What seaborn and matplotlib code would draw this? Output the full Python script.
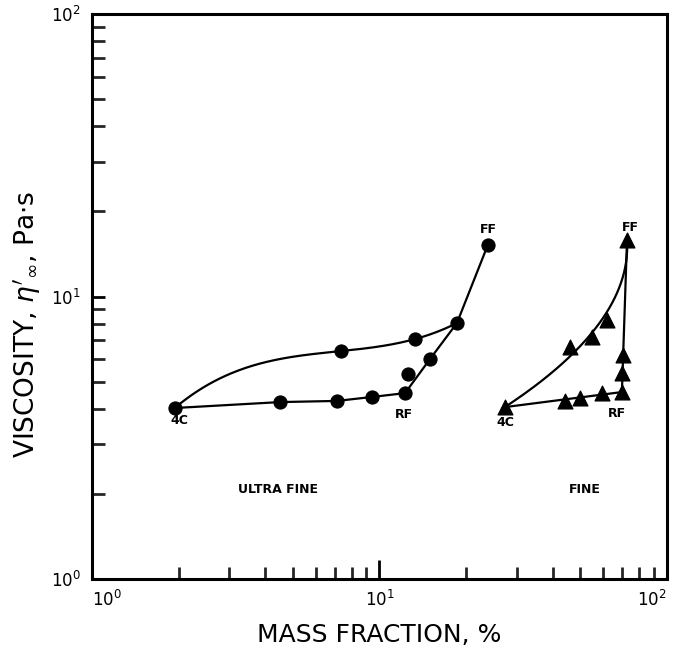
import numpy as np
import pandas as pd
import matplotlib
matplotlib.use("Agg")
import matplotlib.pyplot as plt
import seaborn as sns

# ---------------- data ----------------
# Ultra fine (circles)
uf_lower_x = [1.94, 4.51, 7.11, 9.42, 12.27, 14.99, 18.6, 23.8]
uf_lower_y = [4.03, 4.23, 4.27, 4.41, 4.55, 6.01, 8.06, 15.2]
uf_upper_x = [1.94, 7.34, 13.29, 18.6]
uf_upper_y = [4.03, 6.41, 7.07, 8.06]
uf_extra_x = [12.57]
uf_extra_y = [5.32]

# Fine (triangles)
f_lower_x = [27.3, 44.2, 49.8, 59.4, 69.7, 69.9, 70.2, 72.6]
f_lower_y = [4.06, 4.27, 4.37, 4.55, 4.59, 5.36, 6.20, 15.85]
f_upper_x = [27.3, 46.0, 54.8, 61.8, 72.6]
f_upper_y = [4.06, 6.63, 7.19, 8.26, 15.85]

tick_vals = [1, 10, 100]
tick_labels = [r"$10^0$", r"$10^1$", r"$10^2$"]

# ---------------- style ----------------
sns.set_style("ticks")
plt.rcParams["font.family"] = ["DejaVu Sans"]
plt.rcParams["mathtext.fontset"] = "dejavusans"

fig = plt.figure(figsize=(6.74, 6.55), dpi=100)
ax = fig.add_axes([0.1365, 0.116, 0.8531, 0.8626])
ax.set_xscale("log")
ax.set_yscale("log")
ax.set_xlim(1, 100)
ax.set_ylim(1, 100)

lw = 1.6
col = "black"

def cubic_through(xs, ys, n=200):
    lx, ly = np.log10(xs), np.log10(ys)
    c = np.polyfit(lx, ly, len(xs) - 1)
    t = np.linspace(lx[0], lx[-1], n)
    return 10 ** t, 10 ** np.polyval(c, t)

def curve_x_of_y(xs, ys, n=200):
    lx, ly = np.log10(xs), np.log10(ys)
    w = np.ones(len(xs)); w[0] = w[-1] = 50
    c = np.polyfit(ly, lx, 2, w=w)
    t = np.linspace(ly[0], ly[-1], n)
    xx = np.polyval(c, t)
    f = (t - t[0]) / (t[-1] - t[0])
    xx = xx - (xx[0] - lx[0]) * (1 - f) - (xx[-1] - lx[-1]) * f
    return 10 ** xx, 10 ** t

# Ultra fine lines
sns.lineplot(x=uf_lower_x, y=uf_lower_y, sort=False, ax=ax, color=col, lw=lw)
cx, cy = cubic_through(uf_upper_x, uf_upper_y)
sns.lineplot(x=cx, y=cy, sort=False, ax=ax, color=col, lw=lw)

# Fine lines
sns.lineplot(x=[f_lower_x[0], f_lower_x[4], f_lower_x[-1]],
             y=[f_lower_y[0], f_lower_y[4], f_lower_y[-1]], sort=False, ax=ax, color=col, lw=lw)
fx, fy = curve_x_of_y(f_upper_x, f_upper_y)
sns.lineplot(x=fx, y=fy, sort=False, ax=ax, color=col, lw=lw)

# markers
uf_mx = uf_lower_x + uf_upper_x[1:3] + uf_extra_x
uf_my = uf_lower_y + uf_upper_y[1:3] + uf_extra_y
sns.scatterplot(x=uf_mx, y=uf_my, ax=ax, marker="o", s=90, color=col, edgecolor=col, zorder=5)
f_mx = f_lower_x + f_upper_x[1:4]
f_my = f_lower_y + f_upper_y[1:4]
sns.scatterplot(x=f_mx, y=f_my, ax=ax, marker="^", s=115, color=col, edgecolor=col, zorder=5)

# annotations
tk = dict(fontsize=9, fontweight="bold", ha="center", va="center", color=col)
ax.text(2.02, 3.65, "4C", **tk)
ax.text(12.17, 3.81, "RF", **tk)
ax.text(24.0, 17.2, "FF", **tk)
ax.text(27.3, 3.57, "4C", **tk)
ax.text(67.0, 3.84, "RF", **tk)
ax.text(74.3, 17.5, "FF", **tk)
ax.text(4.43, 2.07, "ULTRA FINE", **tk)
ax.text(51.9, 2.07, "FINE", **tk)

# axes styling
for s in ax.spines.values():
    s.set_linewidth(2.2)
    s.set_color(col)
ax.tick_params(which="major", direction="in", length=14, width=2, labelsize=12,
               top=False, right=False, pad=8, colors=col)
ax.tick_params(axis="y", which="major", length=9)
ax.tick_params(which="minor", direction="in", length=9, width=2,
               top=False, right=False)
ax.set_xticks(tick_vals)
ax.set_yticks(tick_vals)
ax.set_xticklabels(tick_labels)
ax.set_yticklabels(tick_labels)
xl = ax.get_xticklabels()
xl[0].set_ha("left")
xl[-1].set_ha("right")

ax.set_xlabel("MASS FRACTION, %", fontsize=18, labelpad=9, color=col)
ax.set_ylabel(r"VISCOSITY, $\eta'_{\infty}$, Pa$\cdot$s", fontsize=19, color=col,
              va="center")
ax.yaxis.set_label_coords(-0.113, 0.45)

fig.savefig("out.png", dpi=100)
